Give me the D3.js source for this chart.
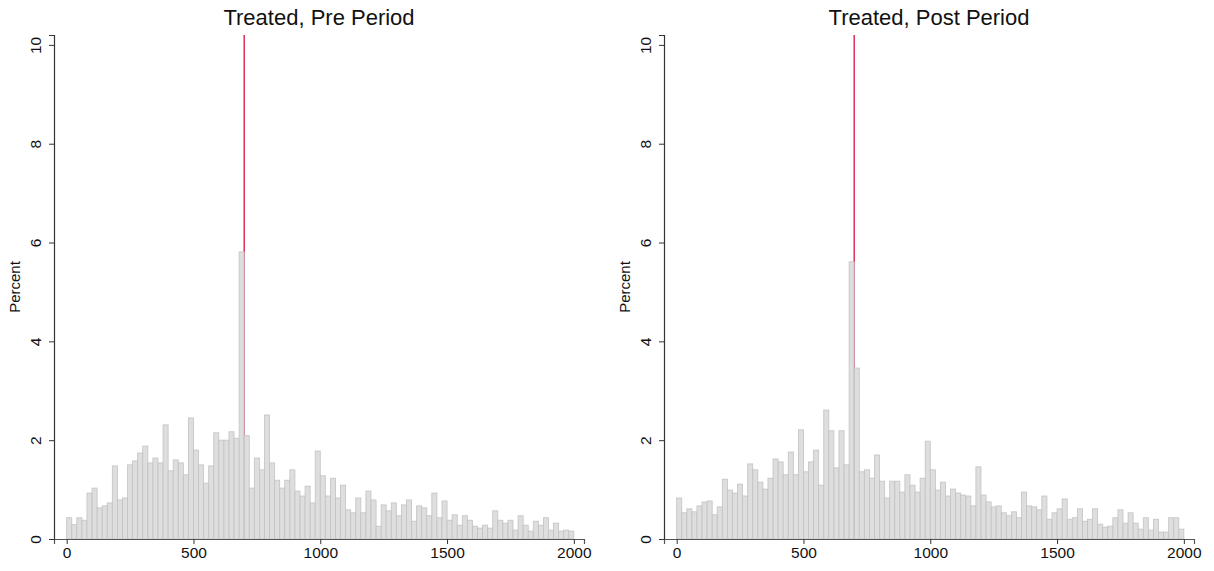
<!DOCTYPE html>
<html>
<head>
<meta charset="utf-8">
<script src="https://cdn.jsdelivr.net/npm/d3@7"></script>
<style>
	body { margin: 0; background: #fff; }
	text { font-family: "Liberation Sans", Arial, sans-serif; fill: #111; }
</style>
</head>
<body>
<div class="hist-charts"></div>
<script>
// bins of width 20 from 0 to 2000
var binWidth = 20;
var binStarts = d3.range(0, 2000, binWidth);
var cutoff = 700;
var xTicks = [0, 500, 1000, 1500, 2000];
var yTicks = [0, 2, 4, 6, 8, 10];
var titles = ['Treated, Pre Period', 'Treated, Post Period'];

// percent per bin
var prePct = [
	0.43, 0.29, 0.43, 0.38, 0.93, 1.03, 0.63, 0.67, 0.73, 1.48,
	0.79, 0.83, 1.50, 1.58, 1.74, 1.88, 1.54, 1.64, 1.54, 2.31,
	1.38, 1.60, 1.54, 1.30, 2.45, 1.80, 1.50, 1.13, 1.48, 2.15,
	2.00, 2.00, 2.17, 2.04, 5.81, 2.09, 1.03, 1.64, 1.40, 2.51,
	1.54, 1.19, 1.03, 1.19, 1.40, 0.97, 0.87, 1.07, 0.73, 1.78,
	1.28, 0.87, 1.23, 0.83, 1.09, 0.59, 0.53, 0.83, 0.53, 0.97,
	0.79, 0.26, 0.69, 0.57, 0.73, 0.47, 0.69, 0.79, 0.36, 0.67,
	0.63, 0.47, 0.93, 0.43, 0.77, 0.38, 0.49, 0.28, 0.47, 0.38,
	0.26, 0.22, 0.28, 0.22, 0.57, 0.38, 0.32, 0.38, 0.18, 0.47,
	0.28, 0.16, 0.36, 0.28, 0.43, 0.18, 0.32, 0.16, 0.18, 0.16
];
var postPct = [
	0.83, 0.53, 0.61, 0.55, 0.67, 0.75, 0.77, 0.49, 0.65, 1.21,
	0.99, 0.93, 1.11, 0.87, 1.52, 1.40, 1.15, 1.01, 1.23, 1.62,
	1.56, 1.30, 1.76, 1.30, 2.21, 1.36, 1.56, 1.80, 1.09, 2.61,
	2.19, 1.44, 2.19, 1.50, 5.61, 3.46, 1.36, 1.40, 1.23, 1.70,
	1.17, 0.83, 1.17, 1.17, 0.95, 1.30, 1.09, 0.95, 1.23, 1.98,
	1.40, 0.99, 1.15, 0.87, 1.01, 0.93, 0.89, 0.87, 0.67, 1.46,
	0.89, 0.75, 0.65, 0.67, 0.53, 0.47, 0.55, 0.43, 0.95, 0.67,
	0.65, 0.59, 0.87, 0.40, 0.53, 0.61, 0.81, 0.40, 0.43, 0.61,
	0.36, 0.40, 0.61, 0.30, 0.24, 0.26, 0.43, 0.59, 0.32, 0.53,
	0.32, 0.20, 0.43, 0.18, 0.40, 0.14, 0.14, 0.43, 0.43, 0.20
];

var w = 1214;
var h = 571;
var svg = d3.select('.hist-charts')
	.append('svg')
	.attr('width', w)
	.attr('height', h);

var y = d3.scaleLinear().domain([0, 10.2]).range([539, 35]);

function drawPanel(values, title, left) {
	var x = d3.scaleLinear().domain([-50, 2040]).range([left, left + 530]);
	var g = svg.append('g');

	// reference line at the cutoff, under the bars
	g.append('line')
		.attr('x1', x(cutoff)).attr('x2', x(cutoff))
		.attr('y1', y(10.2)).attr('y2', y(0))
		.attr('stroke', '#d3123f')
		.attr('stroke-width', 1.3);

	g.selectAll('rect.bar')
		.data(values)
		.enter()
		.append('rect')
		.attr('class', 'bar')
		.attr('x', function(d, i) { return x(binStarts[i]); })
		.attr('width', function(d, i) { return x(binStarts[i] + binWidth) - x(binStarts[i]); })
		.attr('y', function(d) { return y(d); })
		.attr('height', function(d) { return y(0) - y(d); })
		.attr('fill', '#d9d9d9')
		.attr('fill-opacity', 0.88)
		.attr('stroke', '#c3c3c3')
		.attr('stroke-width', 0.8);

	var xAxis = g.append('g')
		.attr('transform', 'translate(0,' + y(0) + ')')
		.call(d3.axisBottom(x).tickValues(xTicks).tickSize(5).tickPadding(3).tickFormat(d3.format('d')));
	xAxis.select('.domain').attr('stroke', '#555').attr('stroke-width', 1.2);
	xAxis.selectAll('.tick line').attr('stroke', '#333');
	xAxis.selectAll('.tick text')
		.attr('font-size', '15.5px')
		.attr('font-family', '"Liberation Sans", Arial, sans-serif')
		.attr('fill', '#111');

	var yAxis = g.append('g')
		.attr('transform', 'translate(' + left + ',0)')
		.call(d3.axisLeft(y).tickValues(yTicks).tickSize(5).tickFormat(d3.format('d')));
	yAxis.select('.domain').attr('stroke', '#333').attr('stroke-width', 1.2);
	yAxis.selectAll('.tick line').attr('stroke', '#333');
	yAxis.selectAll('.tick text')
		.attr('font-size', '15.5px')
		.attr('font-family', '"Liberation Sans", Arial, sans-serif')
		.attr('fill', '#111')
		.attr('text-anchor', 'middle')
		.attr('x', 0).attr('dy', 0)
		.attr('transform', 'translate(-13,0) rotate(-90)');

	g.append('text')
		.attr('transform', 'translate(' + (left - 34) + ',' + y(5.1) + ') rotate(-90)')
		.attr('text-anchor', 'middle')
		.attr('font-size', '15px')
		.text('Percent');

	g.append('text')
		.attr('x', left + 265)
		.attr('y', 25)
		.attr('text-anchor', 'middle')
		.attr('font-size', '22px')
		.text(title);
}

drawPanel(prePct, titles[0], 54);
drawPanel(postPct, titles[1], 664);
</script>
</body>
</html>
